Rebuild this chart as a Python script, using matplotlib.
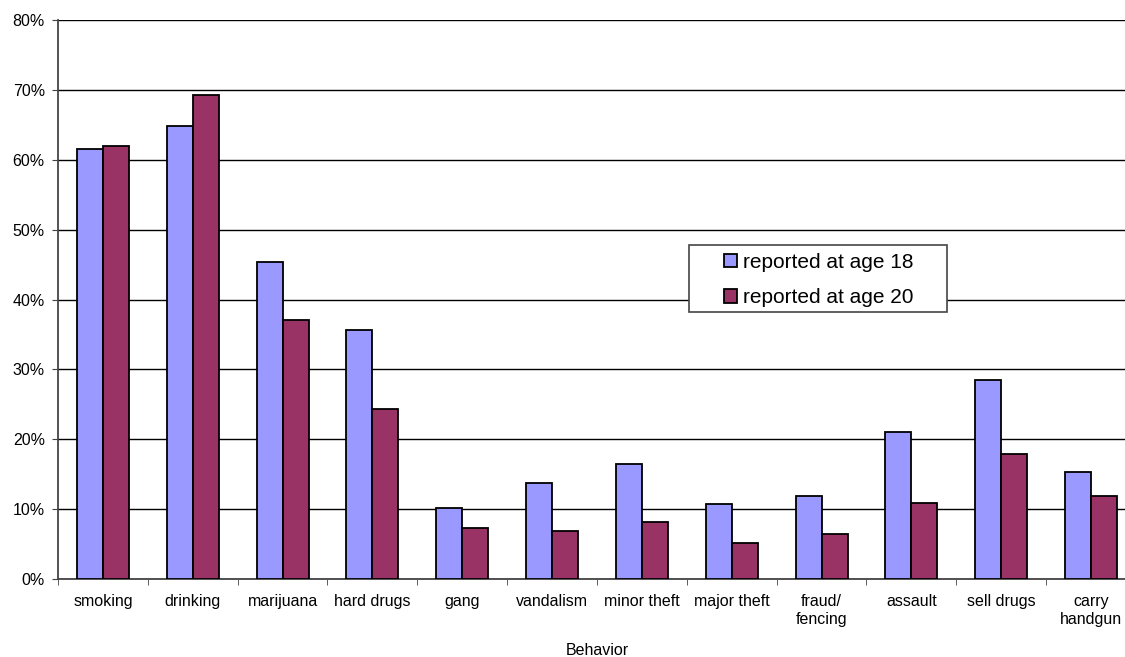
import numpy as np
import matplotlib.pyplot as plt
from matplotlib.ticker import PercentFormatter
from matplotlib.patches import Rectangle

# ---------------- Data ----------------
behaviors = ["smoking", "drinking", "marijuana", "hard drugs", "gang", "vandalism",
             "minor theft", "major theft", "fraud/\nfencing", "assault", "sell drugs",
             "carry\nhandgun"]
age18 = [61.5, 64.8, 45.3, 35.7, 10.1, 13.7, 16.5, 10.8, 11.9, 21.1, 28.5, 15.3]
age20 = [62.0, 69.3, 37.1, 24.3, 7.3, 6.9, 8.2, 5.2, 6.5, 10.9, 17.9, 11.9]
series_labels = ["reported at age 18", "reported at age 20"]

FONT = "Liberation Sans"

# ---------------- Figure ----------------
W, H = 1125, 657
fig = plt.figure(figsize=(W / 100, H / 100), dpi=100)
# plot area runs past the right edge of the picture, like the original
ax = fig.add_axes([58 / W, (H - 579) / H, 1078 / W, 559 / H])

x = np.arange(len(behaviors))
bw = 0.29
ax.bar(x - bw / 2, age18, bw, color="#9999FF", edgecolor="black", linewidth=1.3,
       label=series_labels[0], zorder=3)
ax.bar(x + bw / 2, age20, bw, color="#993366", edgecolor="black", linewidth=1.3,
       label=series_labels[1], zorder=3)

ax.set_xlim(-0.5, len(behaviors) - 0.5)
ax.set_ylim(0, 80)
ax.set_yticks(np.arange(0, 81, 10))
ax.yaxis.set_major_formatter(PercentFormatter(decimals=0))
ax.yaxis.grid(True, color="black", linewidth=1, zorder=0)

ax.set_xticks(x)
ax.set_xticklabels(behaviors, fontsize=11.5, family=FONT, linespacing=1.25)
ax.set_xticks(np.arange(-0.5, len(behaviors), 1), minor=True)
ax.tick_params(axis="x", which="major", length=0, pad=11)
ax.tick_params(axis="x", which="minor", length=4.5, color="#444444")
ax.tick_params(axis="y", length=4.5, color="#444444", labelsize=11.5, pad=5)
for lab in ax.get_yticklabels():
    lab.set_family(FONT)

for s in ["top", "right"]:
    ax.spines[s].set_visible(False)
for s in ["left", "bottom"]:
    ax.spines[s].set_color("#444444")
    ax.spines[s].set_linewidth(1.3)

ax.set_xlabel("Behavior", fontsize=11.5, family=FONT, labelpad=11)

# legend box is wider than its entries in the original, so draw it separately
box = Rectangle((689 / W, 1 - 312 / H), 258 / W, 67 / H,
                transform=fig.transFigure, facecolor="white",
                edgecolor="#444444", linewidth=1.2, zorder=5, clip_on=False)
ax.add_patch(box)
leg = ax.legend(loc="center", bbox_to_anchor=(819 / W, 1 - 280 / H),
                bbox_transform=fig.transFigure, borderaxespad=0, borderpad=0,
                prop={"family": FONT, "size": 15},
                frameon=False, handlelength=0.62, handleheight=0.62,
                handletextpad=0.3, labelspacing=0.78)
leg.set_zorder(6)

fig.savefig("out.png", dpi=100)
